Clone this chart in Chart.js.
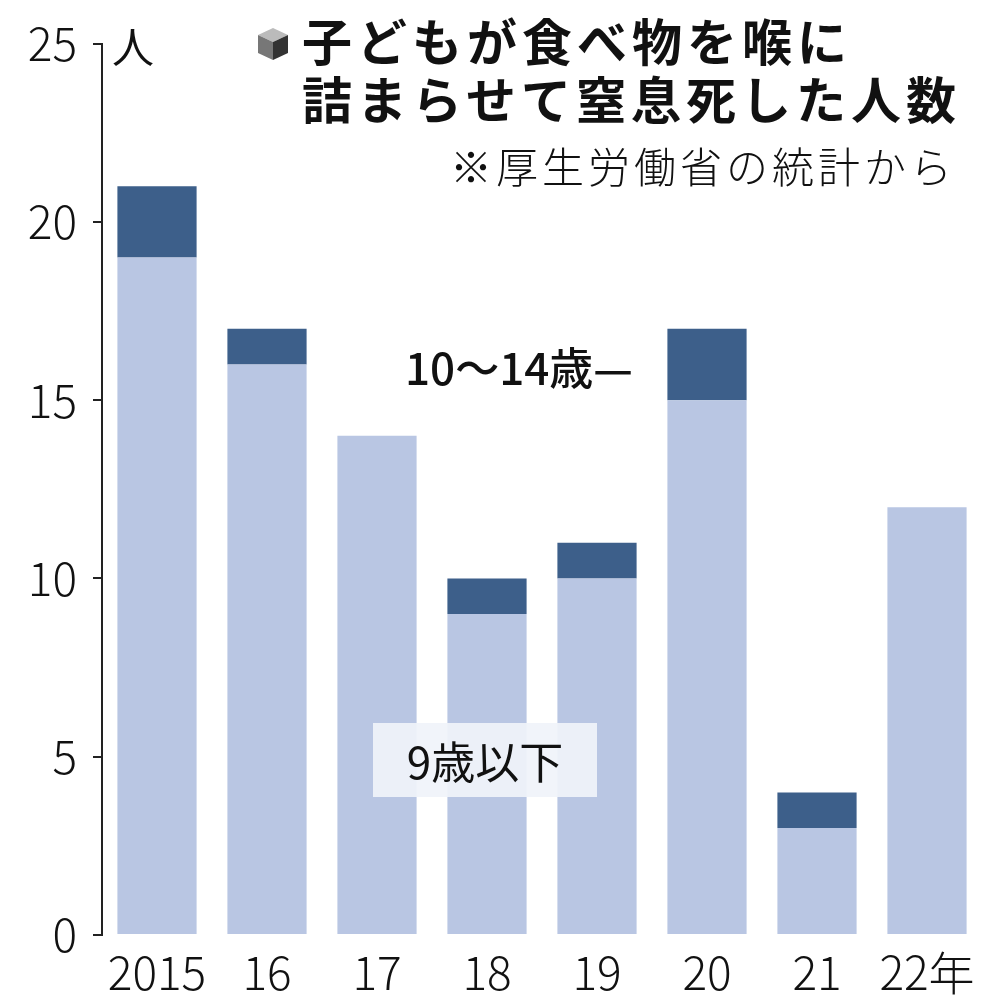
<!DOCTYPE html>
<html>
<head>
<meta charset="utf-8">
<script src="https://cdn.jsdelivr.net/npm/chart.js@4"></script>
<style>
  body { margin: 0; background: #fff; }
  #wrap { position: relative; width: 982px; height: 1000px; }
  .t { position: absolute; font-family: "Noto Sans CJK JP", sans-serif; color: #111; white-space: nowrap; }
</style>
</head>
<body>
<div id="wrap">
  <canvas id="chart" width="982" height="1000"></canvas>
  <div class="t" style="left:112px;top:14px;font-size:42px;">人</div>
  <svg style="position:absolute;left:256px;top:26px" width="34" height="36" viewBox="0 0 34 36">
    <polygon points="17,2 32,9 17,16 2,9" fill="#bbb"/>
    <polygon points="2,9 17,16 17,34 2,27" fill="#777"/>
    <polygon points="32,9 17,16 17,34 32,27" fill="#333"/>
  </svg>
  <div class="t" style="left:302px;top:10px;font-size:50px;font-weight:bold;line-height:58px;letter-spacing:5px;">子どもが食べ物を喉に<br>詰まらせて窒息死した人数</div>
  <div class="t" style="left:450px;top:134px;font-size:42px;font-weight:300;letter-spacing:4px;">※厚生労働省の統計から</div>
  <div class="t" style="left:405px;top:334px;font-size:44px;font-weight:500;">10〜14歳—</div>
  <div class="t" style="left:373px;top:723px;width:224px;height:74px;background:rgba(240,243,250,0.92);font-size:44px;line-height:74px;text-align:center;">9歳以下</div>
</div>
<script>
const years = ["2015", "16", "17", "18", "19", "20", "21", "22年"];
const under9 = [19, 16, 14, 9, 10, 15, 3, 12];
const age10to14 = [2, 1, 0, 1, 1, 2, 1, 0];
const yTicks = [0, 5, 10, 15, 20, 25];

const font = { family: "Noto Sans CJK JP", size: 46, weight: 300 };

new Chart(document.getElementById("chart"), {
  type: "bar",
  data: {
    labels: years,
    datasets: [
      { label: "9歳以下", data: under9, backgroundColor: "#b9c6e3" },
      { label: "10〜14歳", data: age10to14, backgroundColor: "#3d5f8a" },
    ],
  },
  options: {
    responsive: false,
    animation: false,
    layout: { padding: { top: 43, right: 0, bottom: 0, left: 0 } },
    plugins: { legend: { display: false }, tooltip: { enabled: false } },
    scales: {
      x: {
        stacked: true,
        categoryPercentage: 1,
        barPercentage: 0.71,
        grid: { display: false },
        border: { display: false },
        ticks: { color: "#111", font: font, padding: 2, maxRotation: 0 },
        afterFit: (s) => { s.height = 65; },
      },
      y: {
        stacked: true,
        min: 0,
        max: 25,
        afterBuildTicks: (s) => { s.ticks = yTicks.map((v) => ({ value: v })); },
        grid: { drawOnChartArea: false, tickLength: 9, color: "#222", lineWidth: 2 },
        border: { display: true, color: "#222", width: 2 },
        ticks: { color: "#111", font: font, padding: 16 },
        afterFit: (s) => { s.width = 102; },
      },
    },
  },
});
</script>
</body>
</html>
